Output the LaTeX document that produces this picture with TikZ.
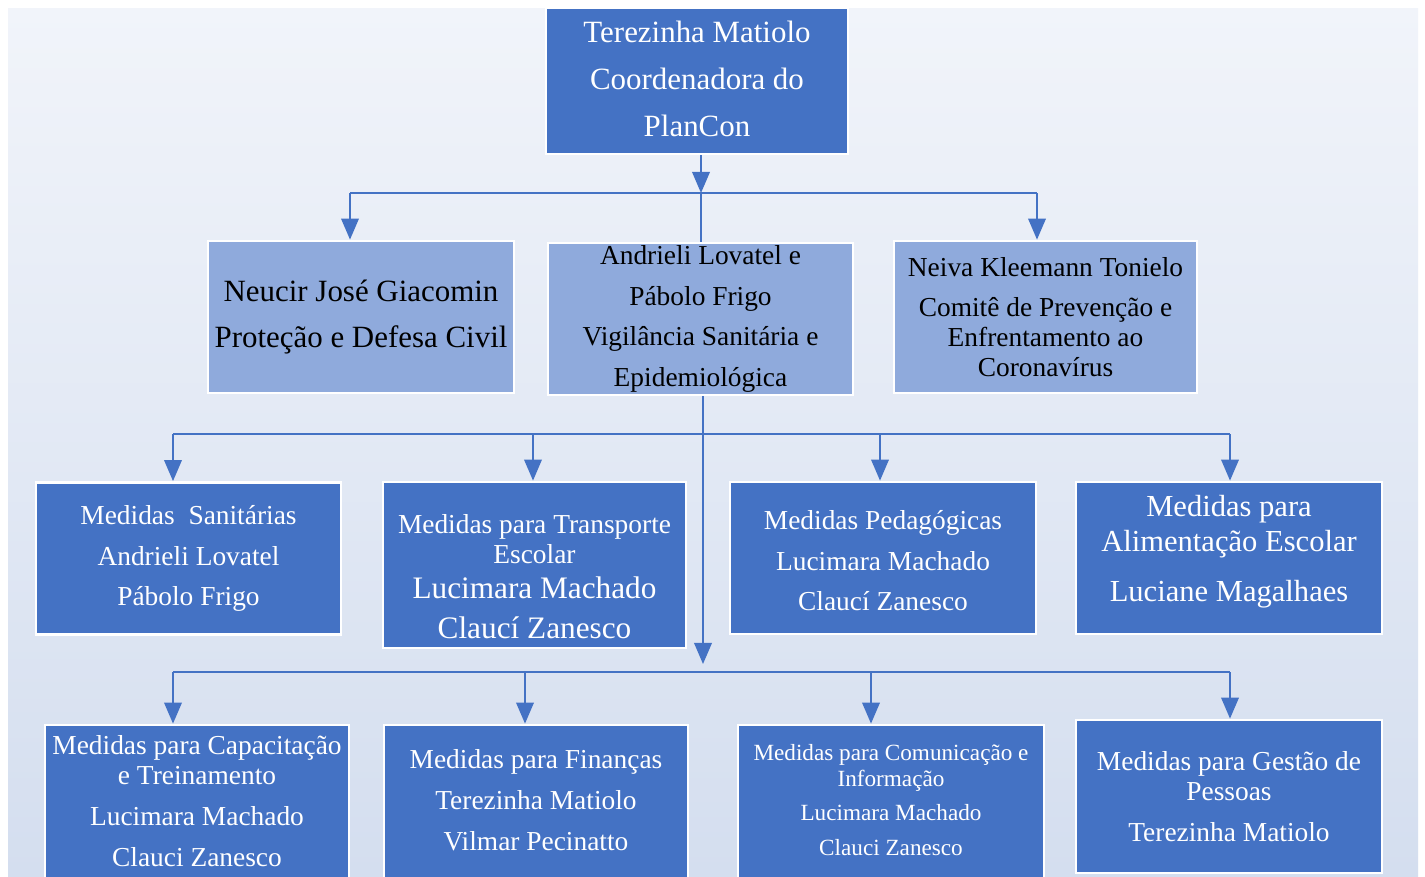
\documentclass[tikz,border=0pt]{standalone}
\usepackage{fontspec}
\setmainfont{Liberation Serif}
\usetikzlibrary{arrows.meta}

\definecolor{plandark}{HTML}{4472C4}
\definecolor{planlight}{HTML}{8FAADC}
\definecolor{plantop}{HTML}{F1F4FA}
\definecolor{planbottom}{HTML}{D4DEEF}

\newcommand{\normaltxt}{\fontsize{15.6}{17}\selectfont}
\newcommand{\bigtxt}{\fontsize{17.6}{26.6}\selectfont}
\newcommand{\largetxt}{\fontsize{17.8}{19}\selectfont}
\newcommand{\smalltxt}{\fontsize{13.2}{14.7}\selectfont}
\newcommand{\linegap}{\\[6.2pt]}
% extra depth under a last line, lifts the text block a little
\newcommand{\liftstrut}[1]{\rule[-#1]{0pt}{1pt}}

\tikzset{
    planbox/.style={draw=white, line width=1.6pt, inner sep=0pt, align=center,
        minimum width=6.1cm, minimum height=3.04cm, font=\normaltxt},
    darkbox/.style={planbox, fill=plandark, text=white},
    lightbox/.style={planbox, fill=planlight, text=black},
    link/.style={draw=plandark, line width=1.1pt},
    linkarrow/.style={link, -{Triangle[width=10pt,length=12pt]}},
}

\begin{document}
\begin{tikzpicture}[x=0.02cm, y=-0.02cm]
    \useasboundingbox[fill=white] (0,0) rectangle (1425,876);
    \fill[top color=plantop, bottom color=planbottom] (8,8) rectangle (1418,876);

    % coordenacao
    \node[darkbox, minimum width=6.04cm, minimum height=2.92cm, font=\bigtxt] (coord) at (697,81)
        {Terezinha Matiolo\\Coordenadora do\\PlanCon\liftstrut{2.5pt}};

    % segundo nivel
    \node[lightbox, minimum width=6.12cm, font=\bigtxt] (civil) at (361,317)
        {Neucir José Giacomin\\Proteção e Defesa Civil};
    \node[lightbox] (vigil) at (700.5,319)
        {Andrieli Lovatel e\linegap Pábolo Frigo\linegap Vigilância Sanitária e\linegap Epidemiológica};
    \node[lightbox, minimum width=6.06cm] (comite) at (1045.5,317)
        {Neiva Kleemann Tonielo\linegap Comitê de Prevenção e\\Enfrentamento ao\\Coronavírus};

    % medidas
    \node[darkbox] (sanit) at (188.5,558.5)
        {Medidas\ \ Sanitárias\linegap Andrieli Lovatel\linegap Pábolo Frigo};
    \node[darkbox, minimum width=6.06cm, minimum height=3.32cm] (transp) at (534.5,565)
        {\rule{0pt}{24pt}Medidas para Transporte\\Escolar\\[2.8pt]{\largetxt Lucimara Machado}\\[6pt]{\largetxt Claucí Zanesco}};
    \node[darkbox, minimum width=6.12cm] (pedag) at (883,558)
        {\rule{0pt}{14pt}Medidas Pedagógicas\linegap Lucimara Machado\linegap Claucí Zanesco};
    \node[darkbox, minimum width=6.12cm, font=\fontsize{17.4}{19.8}\selectfont] (alim) at (1229,558)
        {Medidas para\\Alimentação Escolar\\[9pt]Luciane Magalhaes\liftstrut{11pt}};

    \node[darkbox, minimum width=6.08cm, minimum height=3.2cm] (capac) at (197,805)
        {Medidas para Capacitação\\e Treinamento\linegap Lucimara Machado\linegap Clauci Zanesco\liftstrut{4.5pt}};
    \node[darkbox, minimum width=6.08cm, minimum height=3.2cm] (financ) at (536,805)
        {Medidas para Finanças\linegap Terezinha Matiolo\linegap Vilmar Pecinatto\liftstrut{5.7pt}};
    \node[darkbox, minimum width=6.12cm, minimum height=3.2cm, font=\smalltxt] (comun) at (891,805)
        {Medidas para Comunicação e\\Informação\\[5pt]Lucimara Machado\\[5pt]Clauci Zanesco\liftstrut{5.7pt}};
    \node[darkbox, minimum width=6.12cm, minimum height=3.06cm] (gestao) at (1229,796.5)
        {Medidas para Gestão de\\Pessoas\linegap Terezinha Matiolo};

    % ligacoes
    \coordinate (topfork) at (701,193);
    \coordinate (topleft) at (350,193);
    \coordinate (topright) at (1037,193);
    \draw[linkarrow] (topfork |- coord.south) -- (topfork);
    \draw[link] (topleft) -- (topright);
    \draw[link] (topfork) -- (topfork |- vigil.north);
    \draw[linkarrow] (topleft) -- (topleft |- civil.north);
    \draw[linkarrow] (topright) -- (topright |- comite.north);

    \coordinate (midfork) at (703,434);
    \coordinate (mida) at (173,434);
    \coordinate (midb) at (533,434);
    \coordinate (midc) at (880,434);
    \coordinate (midd) at (1230,434);
    \draw[link] (midfork |- vigil.south) -- (midfork);
    \draw[link] (mida) -- (midd);
    \foreach \drop/\target in {mida/sanit, midb/transp, midc/pedag, midd/alim}
        \draw[linkarrow] (\drop) -- (\drop |- \target.north);

    \coordinate (lowtip) at (703,664);
    \coordinate (lowa) at (173,672);
    \coordinate (lowb) at (525,672);
    \coordinate (lowc) at (871,672);
    \coordinate (lowd) at (1230,672);
    \draw[linkarrow] (midfork) -- (lowtip);
    \draw[link] (lowa) -- (lowd);
    \foreach \drop/\target in {lowa/capac, lowb/financ, lowc/comun, lowd/gestao}
        \draw[linkarrow] (\drop) -- (\drop |- \target.north);
\end{tikzpicture}
\end{document}
